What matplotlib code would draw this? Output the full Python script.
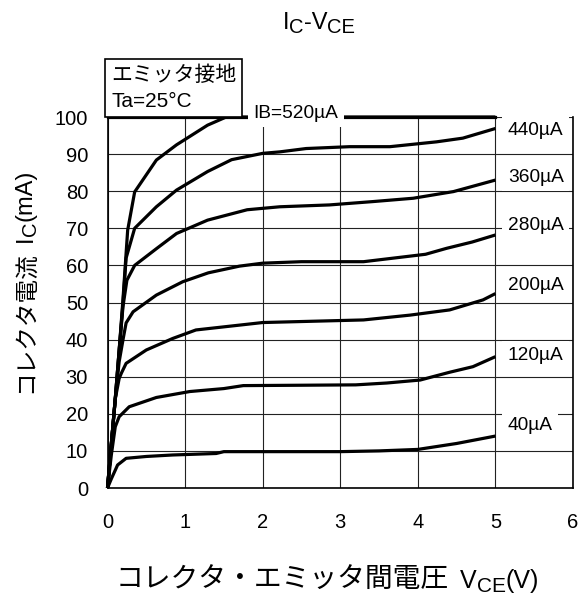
import matplotlib
matplotlib.use("Agg")
import matplotlib.pyplot as plt

LATIN = "Liberation Sans"
JP = "Noto Sans CJK JP"
plt.rcParams["font.family"] = [LATIN, JP]

# curves: collector voltage (V) vs collector current (mA), one per base current
ib40_v = [0, 0.05, 0.1, 0.13, 0.24, 0.5, 0.84, 1.4, 1.5, 2.0, 3.0, 3.5, 4.0, 4.5, 5.0]
ib40_i = [0, 2.5, 4.8, 6.2, 8.0, 8.5, 8.9, 9.3, 9.8, 9.8, 9.8, 10.0, 10.4, 12.0, 14.0]

ib120_v = [0, 0.05, 0.1, 0.15, 0.28, 0.63, 1.06, 1.5, 1.75, 2.5, 3.2, 3.6, 4.03, 4.41, 4.71, 5.0]
ib120_i = [0, 9, 16.5, 19.2, 21.9, 24.4, 26.0, 26.8, 27.6, 27.7, 27.8, 28.3, 29.1, 31.2, 32.7, 35.4]

ib200_v = [0, 0.05, 0.1, 0.15, 0.18, 0.24, 0.5, 0.84, 1.14, 1.7, 2.0, 3.3, 3.9, 4.41, 4.84, 5.0]
ib200_i = [0, 12, 24, 29.5, 31.0, 33.6, 37.2, 40.3, 42.6, 43.9, 44.6, 45.3, 46.6, 48.0, 50.7, 52.4]

ib280_v = [0, 0.05, 0.1, 0.15, 0.2, 0.24, 0.33, 0.63, 0.97, 1.3, 1.7, 2.0, 2.5, 3.3, 3.7, 4.1, 4.37, 4.7, 5.0]
ib280_i = [0, 12, 24, 34, 40, 44.5, 47.5, 52.0, 55.6, 58.0, 59.8, 60.6, 61.0, 61.0, 62.0, 63.0, 64.6, 66.3, 68.2]

ib360_v = [0, 0.05, 0.1, 0.15, 0.2, 0.25, 0.35, 0.63, 0.89, 1.29, 1.8, 2.22, 2.86, 3.42, 3.94, 4.46, 5.0]
ib360_i = [0, 12, 24, 37, 49, 56, 60, 64.5, 68.6, 72.2, 75.0, 75.8, 76.3, 77.2, 78.1, 79.9, 83.0]

ib440_v = [0, 0.05, 0.1, 0.15, 0.2, 0.24, 0.35, 0.63, 0.89, 1.29, 1.6, 2.0, 2.22, 2.56, 3.12, 3.64, 4.24, 4.58, 5.0]
ib440_i = [0, 12, 24, 37, 50, 62, 70, 75.8, 80.3, 85.3, 88.5, 90.2, 90.6, 91.5, 92.0, 92.0, 93.3, 94.3, 96.9]

ib520_v = [0, 0.05, 0.1, 0.15, 0.2, 0.26, 0.35, 0.63, 0.89, 1.29, 1.53, 5.0]
ib520_i = [0, 12, 24, 37, 51, 69.5, 79.8, 88.4, 92.5, 97.8, 100, 100]

curves = [
    (ib40_v, ib40_i), (ib120_v, ib120_i), (ib200_v, ib200_i), (ib280_v, ib280_i),
    (ib360_v, ib360_i), (ib440_v, ib440_i), (ib520_v, ib520_i),
]

curve_labels = ["40µA", "120µA", "200µA", "280µA", "360µA", "440µA"]
label_y = [15.6, 34.5, 53.4, 69.5, 82.5, 95.1]

x_ticks = [0, 1, 2, 3, 4, 5, 6]
y_ticks = [0, 10, 20, 30, 40, 50, 60, 70, 80, 90, 100]

W, H = 583, 596
fig = plt.figure(figsize=(W / 100, H / 100), dpi=100, facecolor="white")
ax = fig.add_axes([107.5 / W, 108 / H, 465.5 / W, 371 / H])

for v, i in curves:
    ax.plot(v, i, color="black", linewidth=2.3, solid_capstyle="butt", zorder=2.2, clip_on=False)

ax.set_xlim(0, 6)
ax.set_ylim(0, 100)
ax.set_xticks(x_ticks)
ax.set_yticks(y_ticks)
ax.tick_params(length=0, labelsize=14.5)
ax.tick_params(axis="x", pad=18)
ax.tick_params(axis="y", pad=14)
ax.grid(True, color="#222222", linewidth=0.8)
ax.set_axisbelow(True)

for name in ["left", "bottom", "right"]:
    ax.spines[name].set_linewidth(1.2)
    ax.spines[name].set_color("black")
ax.spines["top"].set_bounds(0, 5)
ax.spines["top"].set_linewidth(2.3)

for lab, ly in zip(curve_labels, label_y):
    ax.text(5.16, ly, lab, fontsize=13.8, ha="left", va="baseline", zorder=4,
            bbox=dict(facecolor="white", edgecolor="none", pad=4))

ax.text(2.43, 101, "IB=520µA", fontsize=13.8, ha="center", va="center", zorder=4,
        bbox=dict(facecolor="white", edgecolor="none", pad=4))

fig.text(111 / W, (H - 111) / H, "エミッタ接地\nTa=25°C", fontsize=15, ha="left", va="bottom",
         linespacing=1.5,
         bbox=dict(boxstyle="square,pad=0.28", facecolor="white", edgecolor="black", linewidth=1.2))


def draw_pieces(x, y, pieces, rotation=0):
    # pieces: (text, size, family, drop in px); plain numbers are gaps in px
    renderer = fig.canvas.get_renderer()
    pos = 0
    for p in pieces:
        if not isinstance(p, tuple):
            pos += p
            continue
        s, size, family, drop = p
        t = fig.text(0, 0, s, fontsize=size, family=family, rotation=rotation,
                     rotation_mode="anchor", ha="left", va="baseline")
        if rotation == 0:
            t.set_position(((x + pos) / W, (y - drop) / H))
        else:
            t.set_position(((x + drop) / W, (y + pos) / H))
        bb = t.get_window_extent(renderer)
        pos += bb.width if rotation == 0 else bb.height


draw_pieces(283, H - 29, [("I", 17, LATIN, 0), ("C", 14.5, LATIN, 4),
                          ("-V", 17, LATIN, 0), ("CE", 14.5, LATIN, 4)])

draw_pieces(32, H - 393, [("コレクタ電流", 17, JP, 0), 9, ("I", 17, LATIN, 0),
                          ("C", 14.5, LATIN, 4), ("(mA)", 17, LATIN, 0)], rotation=90)

draw_pieces(116, 8, [("コレクタ・エミッタ間電圧", 20, JP, 0), 11, ("V", 18, LATIN, 0),
                     ("CE", 15, LATIN, 4), ("(V)", 18, LATIN, 0)])

fig.savefig("out.png", dpi=100)
